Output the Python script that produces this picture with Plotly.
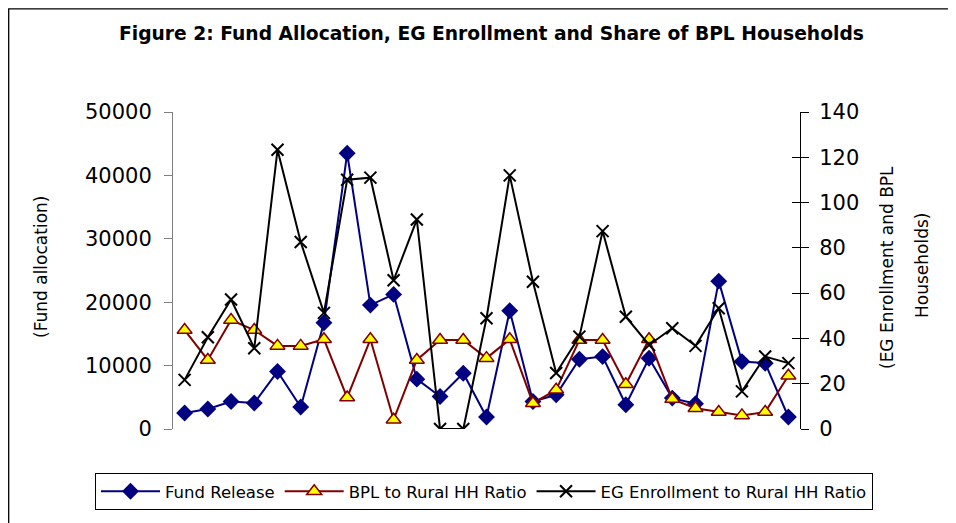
import plotly.graph_objects as go

# ---- data ----
categories = [1, 2, 3, 4, 5, 6, 7, 8, 9, 10, 11, 12, 13, 14, 15, 16, 17, 18, 19, 20,
              21, 22, 23, 24, 25, 26, 27]
fund_release = [2520, 3150, 4340, 4090, 9060, 3460, 16760, 43490, 19540, 21230,
                7860, 5130, 8800, 1890, 18650, 4340, 5390, 11010, 11420, 3820,
                11160, 4870, 3980, 23320, 10630, 10380, 1890]
bpl_ratio = [43.7, 30.5, 48.1, 43.7, 36.7, 36.7, 39.6, 13.9, 39.6, 4.1,
             30.5, 39.3, 39.3, 31.3, 39.6, 11.4, 17.3, 39.3, 39.3, 19.8,
             39.6, 13.2, 9.2, 7.5, 6.0, 7.5, 23.5]
eg_ratio = [21.7, 40.5, 57.2, 35.7, 123.3, 82.6, 51.3, 110.1, 111.0, 65.7,
            92.5, 0, 0, 48.9, 112.0, 65.0, 24.7, 40.8, 87.4, 49.6,
            37.1, 44.5, 36.7, 53.3, 16.6, 32.0, 29.1]
left_ticks = [0, 10000, 20000, 30000, 40000, 50000]
left_tick_labels = ["0", "10000", "20000", "30000", "40000", "50000"]
right_ticks = [0, 20, 40, 60, 80, 100, 120, 140]

title_text = "Figure 2: Fund Allocation, EG Enrollment and Share of BPL Households"
FONT = "DejaVu Sans"

# page is rendered with an 8px body margin, so the figure is offset by 8px
OFF = 8
W, H = 956 - OFF, 523 - OFF
L = 173 - OFF
T = 112 - OFF
R = W - (800 - OFF)
B = H - (429 - OFF)
pw, ph = W - L - R, H - T - B


def px(xp):  # page x pixel -> paper fraction
    return (xp - OFF - L) / pw


def py(yp):  # page y pixel -> paper fraction
    return (H - B - (yp - OFF)) / ph


fig = go.Figure()
fig.add_trace(go.Scatter(
    x=categories, y=fund_release, name="Fund Release", mode="lines+markers",
    line=dict(color="#000080", width=2),
    marker=dict(symbol="diamond", size=13, color="#000080"),
    yaxis="y"))
fig.add_trace(go.Scatter(
    x=categories, y=bpl_ratio, name="BPL to Rural HH Ratio", mode="lines+markers",
    line=dict(color="#800000", width=2),
    marker=dict(symbol="triangle-up", size=13, color="#FFFF00",
                line=dict(color="#800000", width=1.5)),
    yaxis="y2"))
fig.add_trace(go.Scatter(
    x=categories, y=eg_ratio, name="EG Enrollment to Rural HH Ratio", mode="lines+markers",
    line=dict(color="#000000", width=2),
    marker=dict(symbol="x-thin-open", size=12, color="#000000",
                line=dict(color="#000000", width=2)),
    yaxis="y2"))
fig.add_trace(go.Scatter(x=[None], y=[None], yaxis="y3", showlegend=False,
                         hoverinfo="skip"))

fig.update_layout(
    width=W, height=H,
    margin=dict(l=L, r=R, t=T, b=B, pad=0, autoexpand=False),
    paper_bgcolor="white", plot_bgcolor="white",
    font=dict(family=FONT, color="black"),
    showlegend=True,
    xaxis=dict(range=[0.5, 27.5], showgrid=False, zeroline=False, showline=False,
               showticklabels=False, ticks=""),
    yaxis=dict(range=[0, 50000], tickvals=left_ticks, ticktext=left_tick_labels,
               showgrid=False, zeroline=False,
               showline=True, linecolor="#808080", linewidth=1,
               ticks="outside", ticklen=8, tickcolor="#808080", tickwidth=1,
               tickfont=dict(family=FONT, size=21, color="black"),
               ticklabelstandoff=8),
    yaxis2=dict(range=[0, 140], tickvals=right_ticks, overlaying="y", side="right",
                anchor="x", showgrid=False, zeroline=False,
                showline=True, linecolor="black", linewidth=1,
                ticks="outside", ticklen=8, tickcolor="black", tickwidth=1,
                tickfont=dict(family=FONT, size=21, color="black"),
                ticklabelstandoff=6),
    yaxis3=dict(range=[0, 140], tickvals=right_ticks, overlaying="y", side="right",
                anchor="x", showgrid=False, zeroline=False, showline=False,
                ticks="inside", ticklen=8, tickcolor="black", tickwidth=1,
                showticklabels=False),
    legend=dict(orientation="h", x=px(95), y=py(473), xanchor="left", yanchor="top",
                bordercolor="black", borderwidth=1, bgcolor="white",
                font=dict(family=FONT, size=16.5, color="black"),
                itemwidth=59, tracegroupgap=0),
    annotations=[
        dict(text="<b>" + title_text + "</b>", xref="paper", yref="paper",
             x=px(491), y=py(34), showarrow=False, xanchor="center", yanchor="middle",
             font=dict(family=FONT, size=18.7, color="black")),
        dict(text="(Fund allocation)", xref="paper", yref="paper",
             x=px(41), y=py(267), showarrow=False, textangle=-90,
             xanchor="center", yanchor="middle",
             font=dict(family=FONT, size=17, color="black")),
        dict(text="(EG Enrollment and BPL", xref="paper", yref="paper",
             x=px(887), y=py(268), showarrow=False, textangle=-90,
             xanchor="center", yanchor="middle",
             font=dict(family=FONT, size=17, color="black")),
        dict(text="Households)", xref="paper", yref="paper",
             x=px(922), y=py(266), showarrow=False, textangle=-90,
             xanchor="center", yanchor="middle",
             font=dict(family=FONT, size=17, color="black")),
    ],
    shapes=[
        dict(type="rect", xref="paper", yref="paper",
             x0=px(8.7), x1=px(1100), y0=py(700), y1=py(OFF + 0.8),
             line=dict(color="black", width=1.3), fillcolor="rgba(0,0,0,0)",
             layer="below"),
    ],
)

fig.write_html("out.html")
